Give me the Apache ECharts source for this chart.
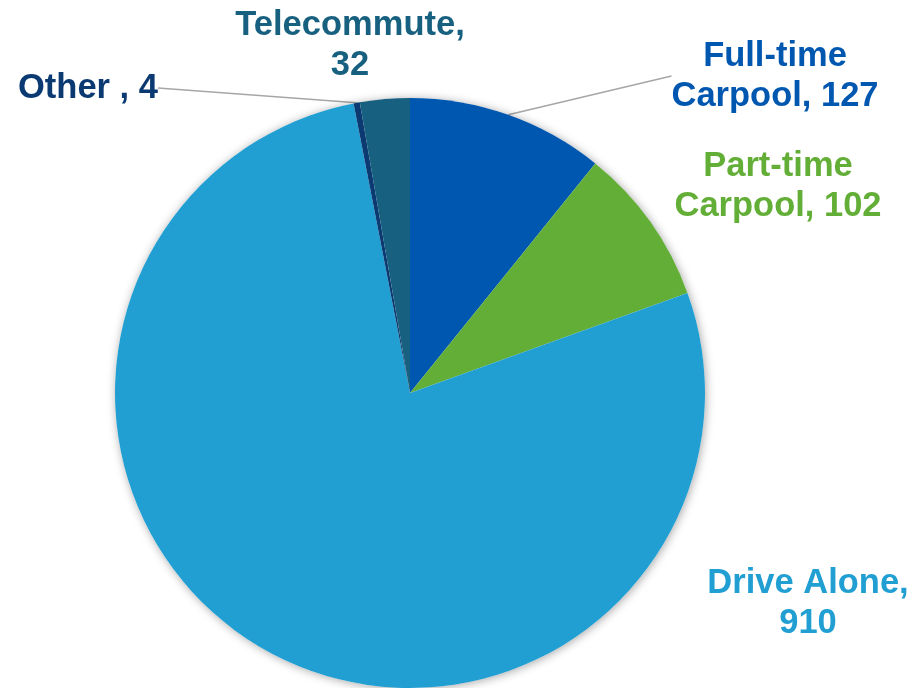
<!DOCTYPE html>
<html>
<head>
<meta charset="utf-8">
<script src="https://cdn.jsdelivr.net/npm/echarts@6/dist/echarts.min.js"></script>
<style>
  html, body { margin: 0; padding: 0; background: #fff; }
  #main { width: 913px; height: 688px; }
</style>
</head>
<body>
<div id="main"></div>
<script>
// commute modes, clockwise from 12 o'clock
var categories = ['Full-time\nCarpool', 'Part-time\nCarpool', 'Drive Alone', 'Other ', 'Telecommute']
var values = [127, 102, 910, 4, 32]
var colors = ['#0057B0', '#62AE36', '#219FD2', '#0B3A72', '#17607F']

// label boxes (center x, center y), and which ones get a leader line
var labelPos = [
  { x: 775, y: 76, line: true },
  { x: 778, y: 186, line: false },
  { x: 808, y: 603, line: false },
  { x: 88, y: 88, line: true },
  { x: 350, y: 45, line: false }
]

var chart = echarts.init(document.getElementById('main'))

var data = categories.map(function (name, i) {
  var text = name === 'Drive Alone' ? name + ',\n' + values[i]
    : name === 'Telecommute' ? name + ',\n' + values[i]
    : name + ', ' + values[i]
  return {
    name: name,
    value: values[i],
    itemStyle: { color: colors[i] },
    label: { formatter: text, color: colors[i] },
    labelLine: { show: labelPos[i].line }
  }
})

chart.setOption({
  animation: false,
  series: [
    {
      // white disc behind the pie only to cast the soft shadow
      type: 'pie',
      silent: true,
      center: [410, 393],
      radius: 295,
      label: { show: false },
      labelLine: { show: false },
      itemStyle: {
        color: '#fff',
        shadowBlur: 10,
        shadowColor: 'rgba(0,0,0,0.35)',
        shadowOffsetX: 1,
        shadowOffsetY: 1
      },
      data: [1]
    },
    {
      type: 'pie',
      center: [410, 393],
      radius: 295,
      startAngle: 90,
      clockwise: true,
      label: {
        show: true,
        position: 'outside',
        fontFamily: 'Liberation Sans, Arial, sans-serif',
        fontWeight: 'bold',
        fontSize: 34.5,
        lineHeight: 40,
        align: 'center'
      },
      labelLine: {
        show: true,
        length: 0.01,
        length2: 0.01,
        lineStyle: { color: '#a6a6a6', width: 1.5 }
      },
      labelLayout: function (params) {
        var p = labelPos[params.dataIndex]
        return {
          x: p.x,
          y: p.y,
          align: 'center',
          verticalAlign: 'middle'
        }
      },
      data: data
    }
  ]
})
</script>
</body>
</html>
